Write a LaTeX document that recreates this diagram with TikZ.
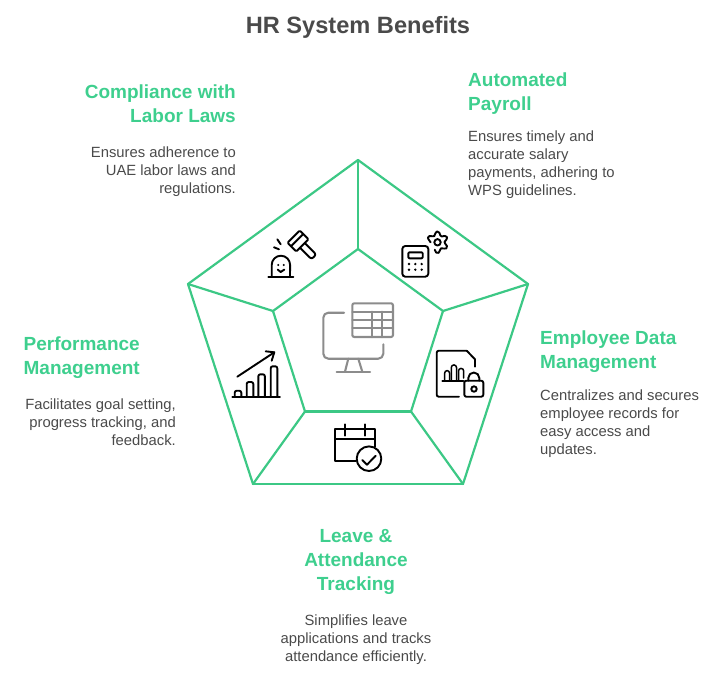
\documentclass[tikz,border=0pt]{standalone}
\usepackage{fontspec}
\setmainfont{Liberation Sans}
\definecolor{hrgreen}{HTML}{3CC885}
\definecolor{hrhead}{HTML}{3ECF8E}
\definecolor{hrtext}{HTML}{4A4A4A}
\definecolor{hrgray}{HTML}{8C8C8C}
\tikzset{
  heading/.style={inner sep=0pt,text=hrhead,font=\fontsize{19}{24}\selectfont\bfseries},
  blurb/.style={inner sep=0pt,text=hrtext,font=\fontsize{14.8}{18}\selectfont},
  icon/.style={line width=1.9pt,line cap=round,line join=round},
}
\begin{document}
\begin{tikzpicture}[x=1pt,y=-1pt]
  \useasboundingbox (0,0) rectangle (710,681);

  \node[inner sep=0pt,text=hrtext,font=\fontsize{23.6}{28}\selectfont\bfseries] (title) at (358,27) {HR System Benefits};

  % pentagon
  \coordinate (o1) at (358,160);
  \coordinate (o2) at (528,284);
  \coordinate (o3) at (463,484);
  \coordinate (o4) at (253,484);
  \coordinate (o5) at (188,284);
  \coordinate (i1) at (358,249);
  \coordinate (i2) at (443,311);
  \coordinate (i3) at (411,411.5);
  \coordinate (i4) at (305,411.5);
  \coordinate (i5) at (273,311);
  \begin{scope}[every edge/.style={draw=hrgreen,line width=2.2pt,line cap=round}]
    \path (o1) edge (o2);
    \path (o2) edge (o3);
    \path (o3) edge (o4);
    \path (o4) edge (o5);
    \path (o5) edge (o1);
    \path (i1) edge (i2);
    \path (i2) edge (i3);
    \path (i3) edge (i4);
    \path (i4) edge (i5);
    \path (i5) edge (i1);
    \path (o1) edge (i1);
    \path (o2) edge (i2);
    \path (o3) edge (i3);
    \path (o4) edge (i4);
    \path (o5) edge (i5);
  \end{scope}

  % headings
  \begin{scope}[every node/.style={heading}]
    \node[anchor=north east,align=right] (compliance) at (236,85) {Compliance with\\Labor Laws};
    \node[anchor=north west,align=left] (payroll) at (468,73) {Automated\\Payroll};
    \node[anchor=north west,align=left] (employee) at (540,331) {Employee Data\\Management};
    \node[anchor=north east,align=right] (performance) at (140,337) {Performance\\Management};
    \node[anchor=north,align=center] (leave) at (356,529) {Leave \&\\Attendance\\Tracking};
  \end{scope}

  % descriptions
  \begin{scope}[every node/.style={blurb}]
    \node[anchor=north east,align=right] (compliancetxt) at (236,147) {Ensures adherence to\\UAE labor laws and\\regulations.};
    \node[anchor=north west,align=left] (payrolltxt) at (468,131) {Ensures timely and\\accurate salary\\payments, adhering to\\WPS guidelines.};
    \node[anchor=north west,align=left] (employeetxt) at (540,390) {Centralizes and secures\\employee records for\\easy access and\\updates.};
    \node[anchor=north east,align=right] (performancetxt) at (176,399) {Facilitates goal setting,\\progress tracking, and\\feedback.};
    \node[anchor=north,align=center] (leavetxt) at (356,615) {Simplifies leave\\applications and tracks\\attendance efficiently.};
  \end{scope}

  % gavel
  \begin{scope}[icon]
    \draw (268.3,276.7) -- (293.3,276.7);
    \draw (271.7,276.7) -- (271.7,265) arc[start angle=180,end angle=360,x radius=9.2,y radius=9.3] -- (290,276.7);
    \draw (277.7,269.6) -- (280.7,272) -- (284.3,269.6);
    \fill (278.3,265) circle (1.1);
    \fill (283.7,265) circle (1.1);
    \draw (274,247.3) -- (279,249.3);
    \draw (277.3,239.3) -- (280.7,244.3);
    \begin{scope}[shift={(298,241)},rotate=-45]
      \draw[rounded corners=1pt] (-6.2,-8.6) rectangle (6.2,8.6);
      \draw (-1.2,-8.6) -- (-1.2,8.6);
      \draw[rounded corners=2.5pt] (6.2,-3.4) -- (22.5,-3.4) -- (22.5,3.4) -- (6.2,3.4);
    \end{scope}
  \end{scope}

  % calculator and gear
  \begin{scope}[icon]
    \draw[rounded corners=3pt] (402.3,246) rectangle (428.3,276.7);
    \draw[rounded corners=1pt] (408.3,252.3) rectangle (422.7,258.3);
    \foreach \dx in {409,415.3,421.7}
      \foreach \dy in {264,269.7}
        \fill (\dx,\dy) circle (1.3);
    \draw plot[smooth,domain=180:470,samples=24] ({437.5+(8.9-2*cos(6*\x))*cos(\x)},{242.3+(8.9-2*cos(6*\x))*sin(\x)});
    \draw (437.5,242.3) circle (3.2);
  \end{scope}

  % monitor
  \begin{scope}[icon,line width=2.1pt,draw=hrgray]
    \draw[rounded corners=2pt] (352.3,303.3) rectangle (393,337);
    \draw (352.3,311.7) -- (393,311.7);
    \draw (352.3,320) -- (393,320);
    \draw (352.3,328.3) -- (393,328.3);
    \draw (372.3,311.7) -- (372.3,337);
    \draw (382.3,311.7) -- (382.3,337);
    \draw[rounded corners=5pt] (344,312.7) -- (323.3,312.7) -- (323.3,358.7) -- (383.3,358.7) -- (383.3,344.3);
    \draw (348.3,358.7) -- (345,371.7);
    \draw (358.3,358.7) -- (362.3,371.7);
    \draw (336.7,372) -- (370,372);
  \end{scope}

  % chart
  \begin{scope}[icon]
    \draw (237.3,376.7) -- (274.3,352.3);
    \draw (265.7,351.3) -- (274.3,352.3) -- (271.7,360.7);
    \draw (232.3,396.7) -- (280,396.7);
    \foreach \bx/\btop in {234.7/390.7,246.7/382,258.3/374.3,270.7/366.3}
      \draw[rounded corners=2pt] (\bx,396.7) -- (\bx,\btop) -- (\bx+6.6,\btop) -- (\bx+6.6,396.7);
  \end{scope}

  % calendar
  \begin{scope}[icon]
    \draw (356,461.3) -- (335,461.3) -- (335,428.7) -- (375,428.7) -- (375,446.7);
    \draw (335,439) -- (375,439);
    \draw (345,424.3) -- (345,435.7);
    \draw (365,424.3) -- (365,435.7);
    \draw (369,458.7) circle (12.3);
    \draw (362.3,460) -- (367,464.7) -- (375.7,455.7);
  \end{scope}

  % document and lock
  \begin{scope}[icon]
    \draw[rounded corners=2pt] (459,396.7) -- (436.7,396.7) -- (436.7,350.7) -- (466.7,350.7);
    \draw (466.7,350.7) -- (475,359.3) -- (475,366.7);
    \draw (442.3,380.7) -- (463.3,380.7);
    \draw[line width=1.5pt] (444.7,380.7) -- (444.7,373) arc[start angle=180,end angle=360,radius=2.4] -- (449.5,380.7);
    \draw[line width=1.5pt] (451.3,380.7) -- (451.3,367.5) arc[start angle=180,end angle=360,radius=2.6] -- (456.5,380.7);
    \draw[line width=1.5pt] (458.5,380.7) -- (458.5,371) arc[start angle=180,end angle=360,radius=2.6] -- (463.7,378);
    \draw[rounded corners=2pt] (464.3,380.7) rectangle (483.3,396.7);
    \draw (468.3,380.7) -- (468.3,378) arc[start angle=180,end angle=360,radius=5.5] -- (479.3,380.7);
    \draw (474,389) circle (2.7);
  \end{scope}
\end{tikzpicture}
\end{document}
